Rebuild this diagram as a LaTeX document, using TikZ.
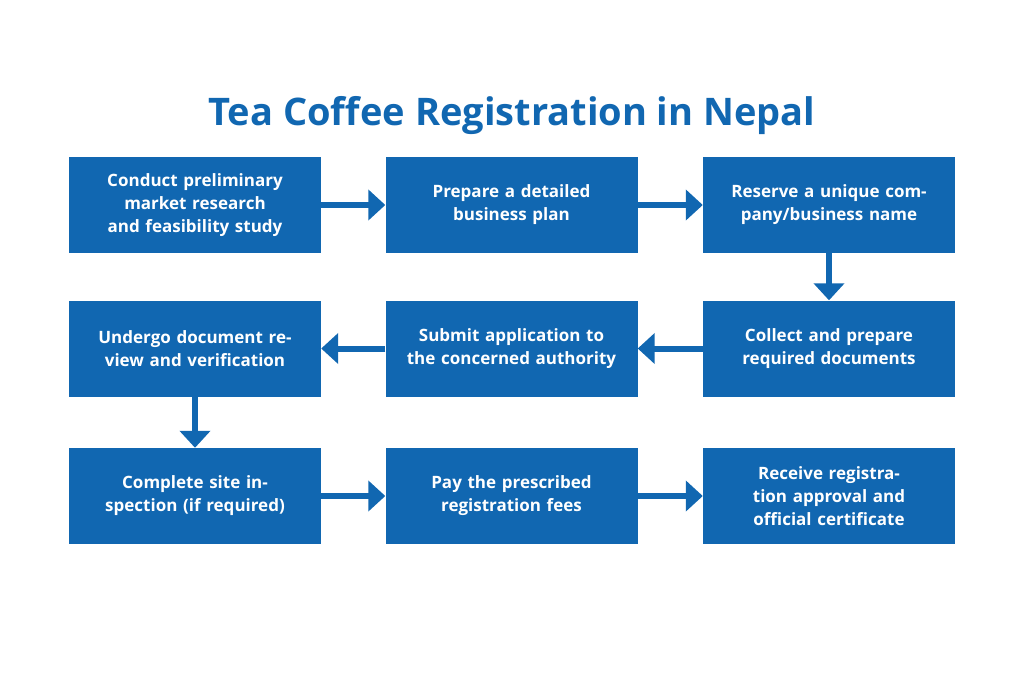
\documentclass[tikz,border=0pt]{standalone}
\usepackage{fontspec}
\setmainfont{Open Sans}
\usetikzlibrary{arrows.meta,positioning}
\definecolor{stepblue}{HTML}{1167B1}
\tikzset{
  stage/.style={fill=stepblue,text=white,font=\bfseries\fontsize{17}{23}\selectfont,
    minimum width=252pt,minimum height=96pt,text width=236pt,align=center,inner sep=0pt},
  flow/.style={stepblue,line width=6pt,-{Triangle[length=17pt,width=30pt]}}
}
\begin{document}
\begin{tikzpicture}[x=1pt,y=-1pt]
\useasboundingbox (0,0) rectangle (1024,683);
\node[text=stepblue,font=\bfseries\fontsize{38}{44}\selectfont] (title) at (512,116) {Tea Coffee Registration in Nepal};
% first row
\node[stage] (research) at (195,205) {Conduct preliminary market research and feasibility study};
\node[stage] (plan) at (511.5,205) {Prepare a detailed business plan};
\node[stage] (name) at (829,205) {Reserve a unique company/business name};
% second row
\node[stage] (docs) at (829,348.5) {Collect and prepare required documents};
\node[stage] (submit) at (511.5,348.5) {Submit application to the concerned authority};
\node[stage] (review) at (195,348.5) {Undergo document review and verification};
% third row
\node[stage] (inspect) at (195,496) {Complete site inspection (if required)};
\node[stage] (fees) at (511.5,496) {Pay the prescribed registration fees};
\node[stage] (approve) at (829,496) {Receive registration approval and official certificate};
\draw[flow] (research) -- (plan);
\draw[flow] (plan) -- (name);
\draw[flow] (name) -- (docs);
\draw[flow] (docs) -- (submit);
\draw[flow] (submit) -- (review);
\draw[flow] (review) -- (inspect);
\draw[flow] (inspect) -- (fees);
\draw[flow] (fees) -- (approve);
\end{tikzpicture}
\end{document}
